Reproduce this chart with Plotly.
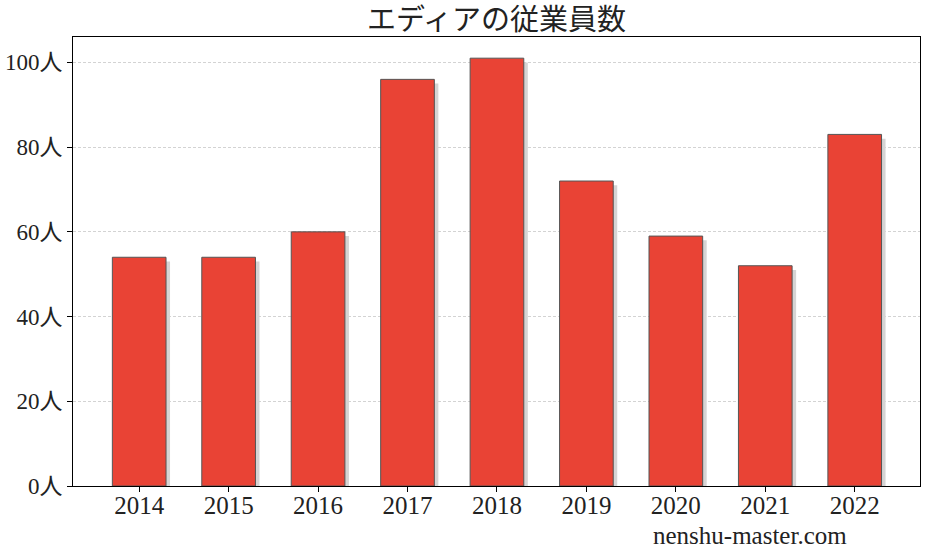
import plotly.graph_objects as go

# 従業員数データ
years = ["2014", "2015", "2016", "2017", "2018", "2019", "2020", "2021", "2022"]
employees = [54, 54, 60, 96, 101, 72, 59, 52, 83]
y_ticks = [0, 20, 40, 60, 80, 100]
y_labels = [f"{t}人" for t in y_ticks]

font_family = "Liberation Serif, DejaVu Serif, Noto Sans CJK JP"
xs = list(range(len(years)))

fig = go.Figure()

# 影 (少し右下にずらした灰色の棒)
fig.add_trace(go.Bar(
    x=xs, y=[v - 1 for v in employees],
    width=0.6, offset=-0.3 + 0.045,
    marker=dict(color="#d6d4d4", line=dict(width=0)),
    hoverinfo="skip", showlegend=False,
))

fig.add_trace(go.Bar(
    x=xs, y=employees,
    width=0.6, offset=-0.3,
    marker=dict(color="#E94335", line=dict(color="#555555", width=1)),
    showlegend=False,
))

fig.update_layout(
    width=927, height=555,
    barmode="overlay",
    paper_bgcolor="white", plot_bgcolor="white",
    margin=dict(l=73, r=7, t=37, b=69),
    font=dict(family=font_family, color="#222222", size=24),
    title=dict(text="エディアの従業員数", xref="paper", x=0.5, xanchor="center",
               y=0.964, yanchor="middle",
               font=dict(size=29, family=font_family, color="#222222")),
)

fig.update_xaxes(
    range=[-0.74, 8.73], automargin=False,
    tickmode="array", tickvals=xs, ticktext=years,
    ticks="outside", ticklen=5, tickcolor="black",
    ticklabelstandoff=-8,
    showline=True, linecolor="black", linewidth=1, mirror=True,
    showgrid=False, tickfont=dict(size=25),
)
fig.update_yaxes(
    range=[0, 106], automargin=False,
    tickmode="array", tickvals=y_ticks, ticktext=y_labels,
    ticks="outside", ticklen=5, tickcolor="black",
    showline=True, linecolor="black", linewidth=1, mirror=True,
    showgrid=True, gridcolor="#d3d3d3", griddash="3px,2px", gridwidth=1,
    zeroline=False, tickfont=dict(size=23),
)

fig.add_annotation(
    text="nenshu-master.com", xref="paper", yref="paper",
    x=0.799, y=-0.111, xanchor="center", yanchor="middle",
    showarrow=False, font=dict(size=25, family=font_family, color="#222222"),
)

# ページの余白をなくす
fig.write_html("out.html", config={"displayModeBar": False},
               post_script="document.body.style.margin='0';")
